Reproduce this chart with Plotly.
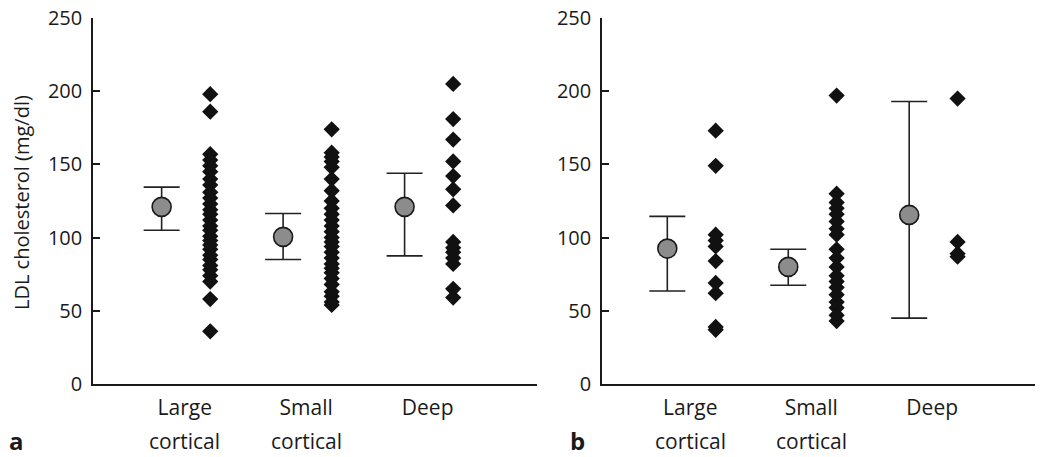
import plotly.graph_objects as go

categories = ["Large cortical", "Small cortical", "Deep"]

# Panel a: individual values
a_large = [198, 186, 157, 153, 149, 145, 140, 136, 131, 127, 123, 119, 116, 112, 108, 105, 101, 98, 95, 92, 88, 85, 81, 78, 74, 70, 58, 36]
a_small = [174, 158, 155, 152, 148, 140, 132, 125, 120, 116, 112, 108, 104, 100, 97, 94, 90, 86, 82, 79, 76, 72, 68, 63, 60, 56, 54]
a_deep = [205, 181, 167, 152, 142, 133, 122, 97, 93, 90, 86, 82, 65, 59]
a_mean = [121, 100.5, 121]
a_upper = [134.5, 116.5, 144]
a_lower = [105, 85, 87.5]

# Panel b: individual values
b_large = [173, 149, 102, 98, 94, 84, 69, 62, 39, 37]
b_small = [197, 130, 124, 120, 116, 111, 106, 102, 92, 86, 80, 74, 70, 66, 61, 56, 52, 47, 43]
b_deep = [195, 97, 89, 87]
b_mean = [92.5, 80, 115.5]
b_upper = [114.5, 92, 193]
b_lower = [63.5, 67.5, 45]

y_ticks = [0, 50, 100, 150, 200, 250]

FONT = "Open Sans"
INK = "#1a1a1a"
MEAN_OFF = -0.19
PTS_OFF = 0.21
OFF = 8  # page body offset in px

fig = go.Figure()

def add_panel(groups, means, upper, lower, xa, ya):
    pos = [1, 2, 3]
    xs, ys = [], []
    for p, g in zip(pos, groups):
        xs += [p + PTS_OFF] * len(g)
        ys += g
    fig.add_trace(go.Scatter(
        x=xs, y=ys, mode="markers", xaxis=xa, yaxis=ya, showlegend=False,
        marker=dict(symbol="diamond", size=12.5, color="#111111", line=dict(width=0)),
        cliponaxis=False))
    fig.add_trace(go.Scatter(
        x=[p + MEAN_OFF for p in pos], y=means, mode="markers", xaxis=xa, yaxis=ya,
        showlegend=False,
        error_y=dict(type="data", symmetric=False,
                     array=[u - m for u, m in zip(upper, means)],
                     arrayminus=[m - l for m, l in zip(means, lower)],
                     color="#222222", thickness=1.6, width=18),
        marker=dict(symbol="circle", size=19, color="#8c8c8c",
                    line=dict(color="#1a1a1a", width=1.6)),
        cliponaxis=False))

add_panel([a_large, a_small, a_deep], a_mean, a_upper, a_lower, "x", "y")
add_panel([b_large, b_small, b_deep], b_mean, b_upper, b_lower, "x2", "y2")

W, H = 1050, 457

def px(x):
    return (x - OFF) / W

def py(y):
    return 1 - (y - OFF) / H

ydom = [py(384), py(18)]

first_lines = [c.split(" ")[0] for c in categories]
second_lines = [" ".join(c.split(" ")[1:]) for c in categories]

xcommon = dict(showline=True, linecolor=INK, linewidth=1.6, ticks="", showgrid=False,
               zeroline=False, tickvals=[1, 2, 3], ticktext=first_lines,
               ticklabelstandoff=4, automargin=False, ticklabeloverflow="allow",
               tickfont=dict(family=FONT, size=21, color=INK), fixedrange=True)
ycommon = dict(showline=True, linecolor=INK, linewidth=1.6, ticks="inside", ticklen=7,
               tickwidth=1.6, tickcolor=INK, showgrid=False, zeroline=False,
               range=[0, 250], tickvals=y_ticks, domain=ydom, ticklabelstandoff=5,
               automargin=False, ticklabeloverflow="allow",
               tickfont=dict(family=FONT, size=20, color=INK))

annotations = [
    dict(text="LDL cholesterol (mg/dl)", xref="paper", yref="paper",
         x=px(21), y=py(203), textangle=-90, showarrow=False,
         xanchor="center", yanchor="middle", borderpad=0,
         font=dict(family=FONT, size=20, color=INK)),
    dict(text="<b>a</b>", xref="paper", yref="paper", x=px(16), y=py(440),
         showarrow=False, xanchor="center", yanchor="middle",
         font=dict(family=FONT, size=24, color=INK)),
    dict(text="<b>b</b>", xref="paper", yref="paper", x=px(577), y=py(440),
         showarrow=False, xanchor="center", yanchor="middle",
         font=dict(family=FONT, size=24, color=INK)),
]
for xr in ["x", "x2"]:
    for p, t in zip([1, 2, 3], second_lines):
        if t:
            annotations.append(dict(text=t, xref=xr, yref="paper", x=p, y=py(441),
                                    showarrow=False, xanchor="center", yanchor="middle",
                                    font=dict(family=FONT, size=21, color=INK)))

fig.update_layout(
    template="none",
    width=W, height=H, margin=dict(l=0, r=0, t=0, b=0, autoexpand=False),
    paper_bgcolor="white", plot_bgcolor="white",
    xaxis=dict(domain=[px(93), px(537)], range=[0.245, 3.9], **xcommon),
    xaxis2=dict(domain=[px(602), px(1035)], range=[0.27, 3.85], **xcommon),
    yaxis=dict(anchor="x", **ycommon),
    yaxis2=dict(anchor="x2", **ycommon),
    annotations=annotations,
)

fig.write_html("out.html")
